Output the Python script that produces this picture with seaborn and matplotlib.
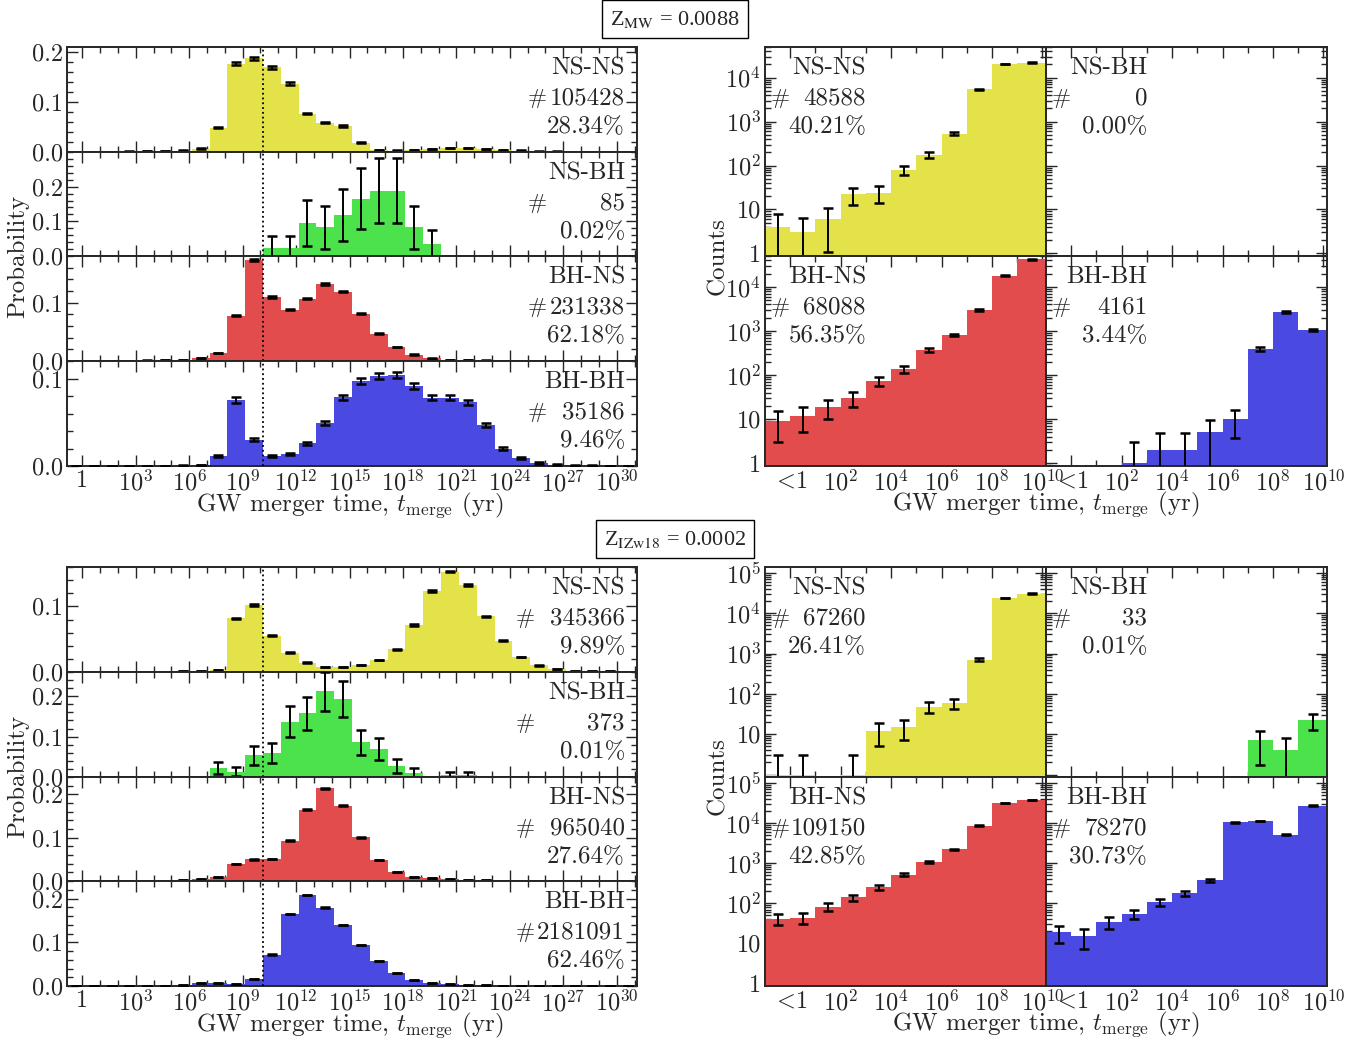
import numpy as np
import pandas as pd
import matplotlib
matplotlib.use("Agg")
import matplotlib.pyplot as plt
import seaborn as sns
from matplotlib.ticker import FixedLocator, FuncFormatter, NullFormatter, LogLocator

# ---------------------------------------------------------------- data
LOG_TH = np.log10(1.38e10)                     # Hubble time (yr), log10
LEFT_EDGES = LOG_TH - 11 + np.arange(33)      # one-decade bins, log10(t/yr)
RIGHT_EDGES = np.array([-1, 0, 1, 2, 3, 4, 5, 6, 7, 8, 9, LOG_TH])

TYPES = ["NS-NS", "NS-BH", "BH-NS", "BH-BH"]
COLORS = ["#E3E349", "#4BE24B", "#E34C4C", "#4A4AE2"]

# Z_MW = 0.0088 : probability per log-decade bin
p_nsns_mw = [0.0005, 0.0005, 0.0008, 0.001, 0.0015, 0.002, 0.003, 0.007, 0.049, 0.177,
             0.187, 0.169, 0.137, 0.077, 0.059, 0.052, 0.019, 0.004, 0.0027, 0.004,
             0.006, 0.008, 0.008, 0.006, 0.004, 0.0027, 0.001, 0.001, 0.0007, 0.0005,
             0.0003, 0.0002]
p_nsbh_mw = [0, 0, 0, 0, 0, 0, 0, 0, 0, 0,
             0, 0.0235, 0.0235, 0.0941, 0.0824, 0.1176, 0.1647, 0.1882, 0.1882, 0.0824,
             0.0353, 0, 0, 0, 0, 0, 0, 0, 0, 0,
             0, 0]
p_bhns_mw = [0.0003, 0.0003, 0.0004, 0.0005, 0.0008, 0.001, 0.002, 0.005, 0.0136, 0.078,
             0.173, 0.110, 0.088, 0.107, 0.132, 0.119, 0.081, 0.047, 0.024, 0.011,
             0.0045, 0.002, 0.001, 0.0008, 0.0005, 0.0003, 0.0002, 0.0001, 0.0001, 0.0001,
             0, 0]
p_bhbh_mw = [0.0001, 0.0001, 0.0001, 0.0002, 0.0002, 0.0003, 0.0005, 0.001, 0.0114, 0.0754,
             0.030, 0.0114, 0.0141, 0.026, 0.0495, 0.0785, 0.097, 0.103, 0.1036, 0.0914,
             0.078, 0.078, 0.073, 0.0465, 0.0198, 0.0091, 0.0034, 0.0015, 0.0007, 0.0004,
             0.0002, 0.0001]

# Z_IZw18 = 0.0002
p_nsns_iz = [0.0003, 0.0003, 0.0003, 0.0004, 0.0005, 0.0006, 0.001, 0.001, 0.003, 0.082,
             0.102, 0.055, 0.0295, 0.0142, 0.008, 0.0076, 0.0107, 0.018, 0.0345, 0.0716,
             0.123, 0.153, 0.1325, 0.085, 0.048, 0.023, 0.010, 0.0046, 0.002, 0.0015,
             0.001, 0.0005]
p_nsbh_iz = [0, 0, 0, 0, 0, 0, 0, 0, 0.0215, 0.0134,
             0.0536, 0.059, 0.1367, 0.158, 0.2118, 0.193, 0.0858, 0.0697, 0.0268, 0.0107,
             0, 0.0054, 0.0054, 0, 0, 0, 0, 0, 0, 0,
             0, 0]
p_bhns_iz = [0.0003, 0.0003, 0.0003, 0.0004, 0.0005, 0.0008, 0.002, 0.004, 0.010, 0.039,
             0.050, 0.051, 0.093, 0.165, 0.214, 0.174, 0.101, 0.048, 0.021, 0.010,
             0.006, 0.0046, 0.003, 0.0015, 0.001, 0.0006, 0.0004, 0.0002, 0.0001, 0.0001,
             0, 0]
p_bhbh_iz = [0.0005, 0.0005, 0.0005, 0.0005, 0.0005, 0.0008, 0.002, 0.0076, 0.0076, 0.004,
             0.0167, 0.072, 0.165, 0.208, 0.179, 0.139, 0.093, 0.057, 0.029, 0.013,
             0.0076, 0.0053, 0.003, 0.002, 0.001, 0.0008, 0.0005, 0.0003, 0.0002, 0.0001,
             0.0001, 0.0001]

# counts of systems merging within a Hubble time (bins: <1, 1-10, ..., 1e9-t_H)
c_nsns_mw = [4, 3, 6, 22, 24, 80, 175, 530, 5400, 20300, 22000]
c_nsbh_mw = [0, 0, 0, 0, 0, 0, 0, 0, 0, 0, 0]
c_bhns_mw = [9, 12, 19, 30, 74, 134, 375, 810, 2960, 18000, 42000]
c_bhbh_mw = [0, 0, 0, 1, 2, 2, 5, 10, 400, 2690, 1050]

c_nsns_iz = [1, 1, 0, 1, 12, 15, 48, 58, 710, 24000, 30500]
c_nsbh_iz = [0, 0, 0, 0, 0, 0, 0, 0, 7, 4, 22]
c_bhns_iz = [41, 43, 83, 140, 250, 520, 1050, 2200, 8500, 31000, 37000]
c_bhbh_iz = [19, 15, 34, 55, 105, 180, 375, 10300, 11200, 5100, 27000]

# totals and fractions quoted in each panel
n_left_mw = [105428, 85, 231338, 35186]
pct_left_mw = ["28.34%", "0.02%", "62.18%", "9.46%"]
n_right_mw = [48588, 0, 68088, 4161]
pct_right_mw = ["40.21%", "0.00%", "56.35%", "3.44%"]

n_left_iz = [345366, 373, 965040, 2181091]
pct_left_iz = ["9.89%", "0.01%", "27.64%", "62.46%"]
n_right_iz = [67260, 33, 109150, 78270]
pct_right_iz = ["26.41%", "0.01%", "42.85%", "30.73%"]

TITLE_MW = r"Z$_{\rm MW}$ = 0.0088"
TITLE_IZ = r"Z$_{\rm IZw18}$ = 0.0002"

# ---------------------------------------------------------------- style
sns.set_style("ticks")
plt.rcParams["font.family"] = ["cmr10", "DejaVu Serif"]
plt.rcParams["mathtext.fontset"] = "cm"
plt.rcParams["axes.formatter.use_mathtext"] = True
plt.rcParams["axes.unicode_minus"] = False
plt.rcParams["axes.linewidth"] = 1.4

FS_TICK = 17.5
FS_TEXT = 18
FS_NOTE = 18
FS_HASH = 16.5
W, H = 1368, 1041
fig = plt.figure(figsize=(W / 100, H / 100), dpi=100)


def frect(x0, y0, x1, y1):
    return [x0 / W, 1 - y1 / H, (x1 - x0) / W, (y1 - y0) / H]


def style_ticks(ax):
    ax.tick_params(which="both", direction="in", top=True, right=True,
                   width=1.0, labelsize=FS_TICK, pad=3)
    ax.tick_params(which="major", length=8)
    ax.tick_params(which="minor", length=4)


def left_fmt(v, pos):
    k = int(round(v))
    return "1" if k == 0 else r"$10^{%d}$" % k


def draw_left(ax, probs, n_total, color, ymax, yticks, show_x):
    ctr = 0.5 * (LEFT_EDGES[:-1] + LEFT_EDGES[1:])
    p = np.asarray(probs, float)
    df = pd.DataFrame({"logt": ctr, "prob": p})
    sns.histplot(data=df, x="logt", weights="prob", bins=list(LEFT_EDGES), stat="count",
                 color=color, alpha=1.0, linewidth=0, ax=ax)
    err = 2.0 * np.sqrt(p * n_total) / n_total
    ax.errorbar(ctr, p, yerr=err, fmt="none", ecolor="black", elinewidth=1.4,
                capsize=3.5, capthick=1.8, zorder=4)
    ax.axvline(LOG_TH, color="black", ls=":", lw=1.3, zorder=5)
    ax.set_xlim(LEFT_EDGES[0], LEFT_EDGES[-1])
    ax.set_ylim(0, ymax)
    ax.xaxis.set_major_locator(FixedLocator(np.arange(0, 31, 3)))
    ax.xaxis.set_minor_locator(FixedLocator(np.arange(0, 32)))
    ax.xaxis.set_major_formatter(FuncFormatter(left_fmt))
    ax.yaxis.set_major_locator(FixedLocator(yticks))
    ax.yaxis.set_minor_locator(FixedLocator(np.arange(0, ymax + 1e-9, 0.02)))
    ax.yaxis.set_major_formatter(FuncFormatter(lambda v, p_: "%.1f" % v))
    ax.set_xlabel("")
    ax.set_ylabel("")
    style_ticks(ax)
    ax.tick_params(labelbottom=show_x)


def right_xfmt(v, pos):
    k = int(round(v))
    return r"$<\!1$" if k == 0 else r"$10^{%d}$" % k


def draw_right(ax, counts, color, ymax, show_y, show_x, hide_one):
    ctr = 0.5 * (RIGHT_EDGES[:-1] + RIGHT_EDGES[1:])
    c = np.asarray(counts, float)
    df = pd.DataFrame({"logt": ctr, "n": c})
    sns.histplot(data=df, x="logt", weights="n", bins=list(RIGHT_EDGES), stat="count",
                 color=color, alpha=1.0, linewidth=0, ax=ax)
    ax.set_yscale("log")
    m = c > 0
    if m.any():
        ax.errorbar(ctr[m], c[m], yerr=2.0 * np.sqrt(c[m]), fmt="none", ecolor="black",
                    elinewidth=1.4, capsize=3.5, capthick=1.8, zorder=4)
    ax.set_xlim(RIGHT_EDGES[0], RIGHT_EDGES[-1])
    ax.set_ylim(0.87, ymax)
    ax.xaxis.set_major_locator(FixedLocator([0, 2, 4, 6, 8, 10]))
    ax.xaxis.set_minor_locator(FixedLocator([1, 3, 5, 7, 9]))
    ax.xaxis.set_major_formatter(FuncFormatter(right_xfmt))
    majors = [v for v in [1, 10, 1e2, 1e3, 1e4, 1e5] if v <= ymax]
    ax.yaxis.set_major_locator(FixedLocator(majors))
    ax.yaxis.set_minor_locator(LogLocator(base=10, subs=np.arange(2, 10), numticks=20))
    ax.yaxis.set_minor_formatter(NullFormatter())

    def yfmt(v, pos):
        if v == 1:
            return "" if hide_one else "1"
        if v == 10:
            return "10"
        return r"$10^{%d}$" % int(round(np.log10(v)))
    ax.yaxis.set_major_formatter(FuncFormatter(yfmt))
    ax.set_xlabel("")
    ax.set_ylabel("")
    style_ticks(ax)
    ax.tick_params(labelbottom=show_x, labelleft=show_y)


def put(x, y, s, ha="right", size=FS_NOTE):
    fig.text(x / W, 1 - y / H, s, ha=ha, va="center", fontsize=size)


def block(left_rows, right_rows, probs, counts, n_left, pct_left, n_right,
          pct_right, left_ylims, left_yticks, right_ymax, hash_x, title, title_y):
    # left column: probability histograms over the full merger-time range
    for i, (ya, yb) in enumerate(left_rows):
        ax = fig.add_axes(frect(67, ya, 637, yb))
        draw_left(ax, probs[i], n_left[i], COLORS[i], left_ylims[i], left_yticks[i], i == 3)
        put(625, ya + 21, TYPES[i])
        put(hash_x, ya + 51, "#", ha="right", size=FS_HASH)
        put(625, ya + 51, str(n_left[i]))
        put(625, ya + 80, pct_left[i])
    # right block: counts merging within a Hubble time
    cols = [(765, 1046), (1046, 1327)]
    for i in range(4):
        r, col = divmod(i, 2)
        ya, yb = right_rows[r]
        xa, xb = cols[col]
        ax = fig.add_axes(frect(xa, ya, xb, yb))
        draw_right(ax, counts[i], COLORS[i], right_ymax, col == 0, r == 1,
                   hide_one=(r == 0 and right_ymax > 1e5))
        put(xa + 101, ya + 21, TYPES[i])
        put(xa + 25, ya + 51, "#", ha="right", size=FS_HASH)
        put(xa + 101, ya + 51, str(n_right[i]))
        put(xa + 101, ya + 80, pct_right[i])
    ymid = 0.5 * (left_rows[0][0] + left_rows[3][1])
    fig.text(18 / W, 1 - ymid / H, "Probability", rotation=90, ha="center", va="center",
             fontsize=FS_TEXT)
    fig.text(718 / W, 1 - ymid / H, "Counts", rotation=90, ha="center", va="center",
             fontsize=FS_TEXT)
    xl = r"GW merger time, $t_{\rm merge}$ (yr)"
    fig.text(350 / W, 1 - (left_rows[3][1] + 39) / H, xl, ha="center", va="center",
             fontsize=FS_TEXT)
    fig.text(1046 / W, 1 - (left_rows[3][1] + 38) / H, xl, ha="center", va="center",
             fontsize=FS_TEXT)
    fig.text(675 / W, 1 - title_y / H, title, ha="center", va="center", fontsize=16,
             family="Liberation Serif", math_fontfamily="stix",
             bbox=dict(boxstyle="square,pad=0.38", fc="white", ec="black", lw=1.0))


block([(47, 152), (152, 256), (256, 361), (361, 466)],
      [(47, 256), (256, 466)],
      [p_nsns_mw, p_nsbh_mw, p_bhns_mw, p_bhbh_mw],
      [c_nsns_mw, c_nsbh_mw, c_bhns_mw, c_bhbh_mw],
      n_left_mw, pct_left_mw, n_right_mw, pct_right_mw,
      [0.21, 0.30, 0.18, 0.12],
      [[0, 0.1, 0.2], [0, 0.1, 0.2], [0, 0.1], [0, 0.1]],
      5e4, 547, TITLE_MW, 19)

block([(567, 672), (672, 777), (777, 881), (881, 986)],
      [(567, 777), (777, 986)],
      [p_nsns_iz, p_nsbh_iz, p_bhns_iz, p_bhbh_iz],
      [c_nsns_iz, c_nsbh_iz, c_bhns_iz, c_bhbh_iz],
      n_left_iz, pct_left_iz, n_right_iz, pct_right_iz,
      [0.16, 0.26, 0.24, 0.24],
      [[0, 0.1], [0, 0.1, 0.2], [0, 0.1, 0.2], [0, 0.1, 0.2]],
      1.4e5, 535, TITLE_IZ, 539)

fig.savefig("out.png", dpi=100)
